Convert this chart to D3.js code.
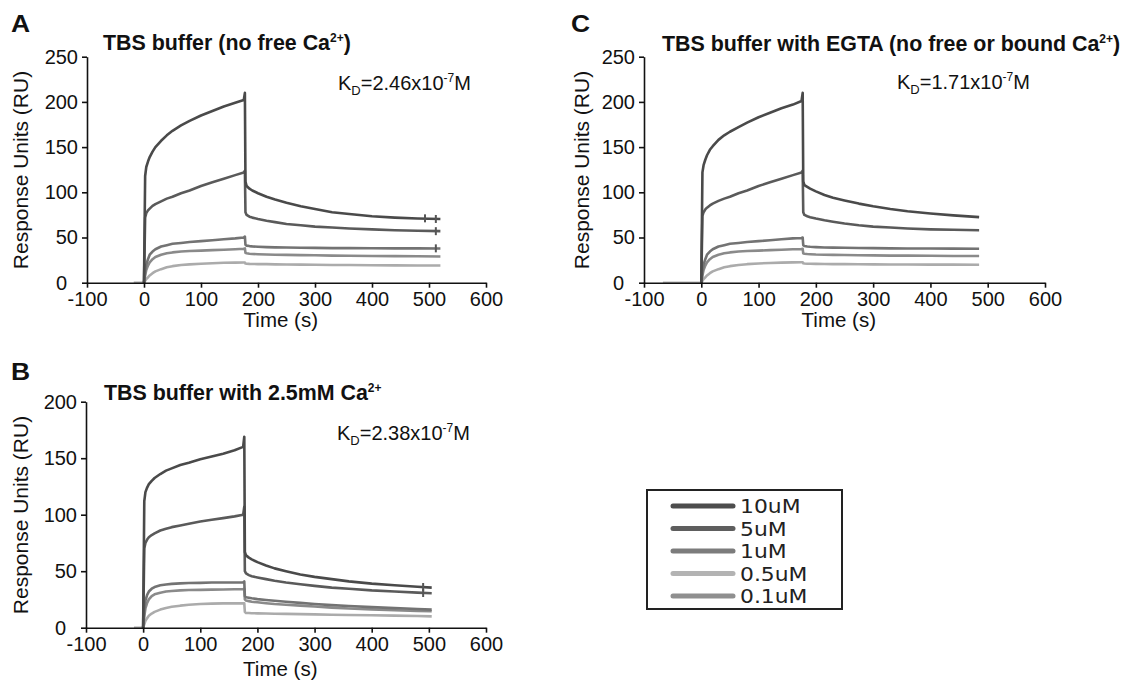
<!DOCTYPE html>
<html>
<head>
<meta charset="utf-8">
<script src="https://cdn.jsdelivr.net/npm/d3@7"></script>
<style>
  body { margin: 0; background: #fff; }
  svg { display: block; font-family: "Liberation Sans", Arial, Helvetica, sans-serif; }
  .axis path, .axis line { stroke: #111; stroke-width: 1.6; }
  .axis text { fill: #111; font-size: 20px; font-family: "Liberation Sans", Arial, sans-serif; }
</style>
</head>
<body>
<svg id="fig" width="1129" height="684"></svg>
<script>
// ---------------- data ----------------
const concentrations = ["10uM", "5uM", "1uM", "0.1uM", "0.5uM"];
const xTicks = [-100, 0, 100, 200, 300, 400, 500, 600];
const yTicksAC = [0, 50, 100, 150, 200, 250];
const yTicksB = [0, 50, 100, 150, 200];

// Panel A: TBS buffer (no free Ca2+)
const timeA = [0, 2, 4, 7, 10, 15, 20, 30, 40, 50, 65, 80, 100, 120, 140, 160, 175, 177, 178, 180, 185, 190, 200, 215, 230, 250, 275, 300, 330, 360, 400, 440, 480, 520];
const baselineA = { time: [-18, 0], value: [0, 0] };
const a10uM = [0, 118, 128, 134, 139, 145, 150, 157, 163, 168, 174, 179, 185, 190, 195, 199, 202, 210, 112, 107, 104, 102, 99, 95, 92, 88.5, 84.5, 81.5, 78, 76, 73.5, 72, 71, 70.5];
const a5uM  = [0, 72, 77, 80, 82, 85, 87, 90, 93, 95, 99, 102, 107, 111, 115, 119, 122, 124, 78, 75, 73, 72, 70.5, 68.5, 67, 65, 63.5, 62, 61, 60, 59, 58, 57.5, 57];
const a1uM  = [0, 12, 20, 26, 31, 34.5, 37, 40, 41.5, 43, 44, 45, 46, 47, 48, 49, 50, 51, 42, 41, 40.5, 40.2, 39.8, 39.4, 39.1, 38.9, 38.7, 38.5, 38.3, 38.2, 38.1, 38, 38, 37.9];
const a01uM = [0, 8, 14, 19, 22.5, 26, 28.5, 31, 32.5, 33.5, 34.5, 35, 35.5, 36, 36.5, 37, 37.5, 38, 33, 32.5, 32, 31.8, 31.5, 31.2, 31, 30.8, 30.5, 30.3, 30, 29.8, 29.6, 29.4, 29.2, 29];
const a05uM = [0, 2, 4, 6, 8, 10.5, 12.5, 15, 17, 18.3, 19.5, 20.3, 21, 21.5, 22, 22.2, 22.4, 22.4, 21.2, 21, 20.8, 20.7, 20.6, 20.5, 20.3, 20.2, 20, 19.8, 19.6, 19.5, 19.3, 19.2, 19, 19];
const endMarksA = { time: [493, 512, 512, 512], value: [71.2, 70.5, 57, 38] };

// Panel B: TBS buffer with 2.5mM Ca2+
const timeB = [0, 2, 4, 7, 10, 15, 20, 30, 40, 50, 65, 80, 100, 120, 140, 160, 175, 177, 178, 180, 185, 190, 200, 215, 230, 250, 275, 300, 330, 360, 400, 440, 480, 505];
const baselineB = { time: [-16, 0], value: [0, 0] };
const b10uM = [0, 112, 120, 124, 127, 130, 132.5, 136, 139, 141, 144, 146, 149, 151.5, 154, 157, 160, 169, 67, 64, 62, 60.5, 58, 55, 52.5, 50, 47, 45, 43, 41, 39, 37.5, 36.2, 35.5];
const b5uM  = [0, 70, 75, 78, 80, 82, 83.5, 86, 87.5, 89, 90.5, 92, 94, 95.5, 97, 98.5, 100, 107, 50, 48, 46.5, 45.5, 44.5, 43, 41.5, 40, 38.5, 37, 35.5, 34.5, 33, 32, 31, 30.5];
const b1uM  = [0, 15, 24, 29, 32, 34.5, 36, 37.5, 38.3, 38.8, 39.2, 39.5, 39.7, 40, 40, 40, 40, 41, 28, 27, 26.5, 26, 25.3, 24.5, 23.8, 23, 22, 21, 20, 19.2, 18.2, 17.3, 16.5, 16];
const b01uM = [0, 10, 17, 22, 25, 28, 29.5, 31, 32, 32.5, 33, 33.3, 33.5, 33.7, 33.8, 34, 34, 34.5, 25, 24, 23.5, 23, 22.5, 21.7, 21, 20.3, 19.5, 18.7, 17.8, 17, 16.2, 15.4, 14.8, 14.5];
const b05uM = [0, 3, 6, 8.5, 10.5, 12.5, 14, 16, 17.5, 18.5, 19.5, 20.3, 21, 21.3, 21.5, 21.5, 21.5, 21.5, 14, 13, 13, 12.8, 12.7, 12.5, 12.3, 12.2, 12, 11.8, 11.5, 11.3, 11, 10.7, 10.3, 10];
const endMarksB = { time: [490, 490], value: [36, 30.7] };

// Panel C: TBS buffer with EGTA (no free or bound Ca2+)
const timeC = [0, 2, 4, 7, 10, 15, 20, 30, 40, 50, 65, 80, 100, 120, 140, 160, 175, 177, 178, 180, 185, 190, 200, 215, 230, 250, 275, 300, 330, 360, 400, 440, 485];
const baselineC = { time: [-67, 0], value: [0, 0] };
const c10uM = [0, 122, 130, 136, 141, 147, 151, 158, 163, 167, 172, 177, 183, 188, 193, 197, 201, 210, 112, 108, 106, 104, 101, 97, 94, 91, 87.5, 84.5, 81.5, 79, 76.5, 74.5, 72.5];
const c5uM  = [0, 74, 78, 81, 83, 85.5, 87.5, 90.5, 93, 95, 99, 102, 107, 111, 115, 119, 122, 124, 78, 75, 73.5, 72.5, 71, 69, 67.5, 65.5, 63.5, 62, 61, 60, 59, 58.5, 58];
const c1uM  = [0, 12, 20, 26, 31, 34.5, 37, 40, 41.5, 43, 44, 45, 46, 47, 48, 49, 49.5, 50, 41.5, 40.5, 40, 39.7, 39.4, 39, 38.8, 38.6, 38.4, 38.2, 38, 37.9, 37.8, 37.7, 37.5];
const c01uM = [0, 8, 14, 19, 22.5, 26, 28.5, 31, 32.5, 33.5, 34.5, 35, 35.5, 36, 36.5, 37, 37.2, 37.5, 32.5, 32, 31.7, 31.5, 31.2, 31, 30.8, 30.6, 30.4, 30.2, 30, 29.9, 29.8, 29.6, 29.5];
const c05uM = [0, 2, 4, 6, 8, 10.5, 12.5, 15, 17, 18.3, 19.5, 20.5, 21.3, 21.8, 22.2, 22.5, 22.6, 22.6, 21.5, 21.2, 21, 20.9, 20.8, 20.7, 20.6, 20.5, 20.4, 20.3, 20.2, 20.1, 20, 20, 19.9];
const endMarksC = { time: [], value: [] };

// ---------------- styles ----------------
const curveColor = { "10uM": "#4a4a4a", "5uM": "#5a5a5a", "1uM": "#737373", "0.1uM": "#8a8a8a", "0.5uM": "#ababab" };
const legendColor = { "10uM": "#4d4d4d", "5uM": "#5e5e5e", "1uM": "#7c7c7c", "0.5uM": "#b3b3b3", "0.1uM": "#8f8f8f" };
const legendOrder = ["10uM", "5uM", "1uM", "0.5uM", "0.1uM"];

const svg = d3.select("#fig");

const panels = [
  { letter: "A", title: "TBS buffer (no free Ca", kd: "2.46", yMax: 250, yTicks: yTicksAC,
    time: timeA, baseline: baselineA, marks: endMarksA,
    series: { "10uM": a10uM, "5uM": a5uM, "1uM": a1uM, "0.1uM": a01uM, "0.5uM": a05uM },
    x0: 87, x1: 486, yb: 282.7, yt: 56.7,
    letterPos: [11, 32], titlePos: [103, 50], titleClose: ")", kdPos: [338, 90], yLabelPos: [28, 170], xLabelY: 327 },
  { letter: "C", title: "TBS buffer with EGTA (no free or bound Ca", kd: "1.71", yMax: 250, yTicks: yTicksAC,
    time: timeC, baseline: baselineC, marks: endMarksC,
    series: { "10uM": c10uM, "5uM": c5uM, "1uM": c1uM, "0.1uM": c01uM, "0.5uM": c05uM },
    x0: 644, x1: 1045, yb: 282.7, yt: 56.7,
    letterPos: [571, 32], titlePos: [662, 51], titleClose: ")", kdPos: [897, 89], yLabelPos: [589, 170], xLabelY: 327 },
  { letter: "B", title: "TBS buffer with 2.5mM Ca", kd: "2.38", yMax: 200, yTicks: yTicksB,
    time: timeB, baseline: baselineB, marks: endMarksB,
    series: { "10uM": b10uM, "5uM": b5uM, "1uM": b1uM, "0.1uM": b01uM, "0.5uM": b05uM },
    x0: 86, x1: 486, yb: 627.7, yt: 401.7,
    letterPos: [11, 380], titlePos: [104, 400], titleClose: "", kdPos: [337, 440], yLabelPos: [28, 515], xLabelY: 676 }
];

panels.forEach(p => {
  const x = d3.scaleLinear().domain([-100, 600]).range([p.x0, p.x1]);
  const y = d3.scaleLinear().domain([0, p.yMax]).range([p.yb, p.yt]);
  const g = svg.append("g");

  // curves: baseline first, then the lighter series underneath the darker ones
  const line = d3.line().x(d => x(d[0])).y(d => y(d[1]));
  g.append("path")
    .attr("d", line(p.baseline.time.map((t, i) => [t, p.baseline.value[i]])))
    .attr("fill", "none").attr("stroke", "#b5b5b5").attr("stroke-width", 2.6);

  ["0.5uM", "0.1uM", "1uM", "5uM", "10uM"].forEach(c => {
    const vals = p.series[c];
    g.append("path")
      .attr("d", line(p.time.map((t, i) => [t, vals[i]])))
      .attr("fill", "none")
      .attr("stroke", curveColor[c])
      .attr("stroke-width", 2.6)
      .attr("stroke-linejoin", "round");
  });

  // small cross-bars near the ends of the dissociation traces
  g.selectAll("line.endmark")
    .data(p.marks.time.map((t, i) => [t, p.marks.value[i]]))
    .join("line")
    .attr("class", "endmark")
    .attr("x1", d => x(d[0])).attr("x2", d => x(d[0]))
    .attr("y1", d => y(d[1]) - 4).attr("y2", d => y(d[1]) + 4)
    .attr("stroke", "#555").attr("stroke-width", 2);

  // axes
  g.append("g").attr("class", "axis")
    .attr("transform", `translate(0,${p.yb})`)
    .call(d3.axisBottom(x).tickValues(xTicks).tickFormat(d => String(d)).tickSize(5).tickSizeOuter(0).tickPadding(4));
  const yAxis = g.append("g").attr("class", "axis")
    .attr("transform", `translate(${x(-100)},0)`)
    .call(d3.axisLeft(y).tickValues(p.yTicks).tickFormat(d => String(d)).tickSize(5).tickSizeOuter(0).tickPadding(4));
  // the zero label sits a little further out, clear of the "-100" label
  yAxis.selectAll(".tick text").filter(d => d === 0).attr("x", -20);

  // panel letter
  svg.append("text")
    .attr("transform", `translate(${p.letterPos[0]},${p.letterPos[1]}) scale(1.15,1)`)
    .attr("font-size", 23).attr("font-weight", "bold").attr("fill", "#111")
    .text(p.letter);

  // title with superscript charge
  const tt = svg.append("text")
    .attr("x", p.titlePos[0]).attr("y", p.titlePos[1])
    .attr("font-size", 21.4).attr("font-weight", "bold").attr("fill", "#111");
  tt.append("tspan").text(p.title);
  tt.append("tspan").attr("font-size", 12).attr("dy", -8).text("2+");
  if (p.titleClose) tt.append("tspan").attr("dy", 8).text(p.titleClose);

  // dissociation constant
  const kd = svg.append("text")
    .attr("x", p.kdPos[0]).attr("y", p.kdPos[1])
    .attr("font-size", 20).attr("fill", "#111");
  kd.append("tspan").text("K");
  kd.append("tspan").attr("font-size", 13).attr("dy", 5).text("D");
  kd.append("tspan").attr("dy", -5).text("=" + p.kd + "x10");
  kd.append("tspan").attr("font-size", 12).attr("dy", -8).text("-7");
  kd.append("tspan").attr("dy", 8).text("M");

  // axis titles
  svg.append("text")
    .attr("transform", `translate(${p.yLabelPos[0]},${p.yLabelPos[1]}) rotate(-90)`)
    .attr("text-anchor", "middle").attr("font-size", 21).attr("fill", "#111")
    .text("Response Units (RU)");
  svg.append("text")
    .attr("x", x(240)).attr("y", p.xLabelY)
    .attr("text-anchor", "middle").attr("font-size", 20.5).attr("fill", "#111")
    .text("Time (s)");
});

// ---------------- legend ----------------
const legend = svg.append("g");
legend.append("rect")
  .attr("x", 647).attr("y", 490).attr("width", 195).attr("height", 119)
  .attr("fill", "#fff").attr("stroke", "#222").attr("stroke-width", 2);
const ly = d3.scalePoint().domain(legendOrder).range([506, 596]);
legendOrder.forEach(c => {
  legend.append("line")
    .attr("x1", 673).attr("x2", 733).attr("y1", ly(c)).attr("y2", ly(c))
    .attr("stroke", legendColor[c]).attr("stroke-width", 5).attr("stroke-linecap", "round");
  legend.append("text")
    .attr("transform", `translate(740,${ly(c) + 7}) scale(1.15,1)`)
    .attr("font-family", "'DejaVu Sans', sans-serif")
    .attr("font-size", 19).attr("fill", "#222")
    .text(c);
});
</script>
</body>
</html>
